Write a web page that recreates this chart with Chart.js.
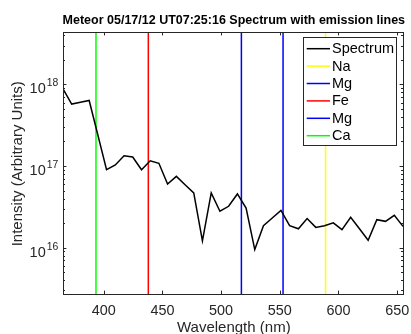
<!DOCTYPE html>
<html>
<head>
<meta charset="utf-8">
<script src="https://cdn.jsdelivr.net/npm/chart.js@4.4.1/dist/chart.umd.min.js"></script>
<style>
  html, body { margin: 0; padding: 0; background: #fff; }
  #wrap { width: 411px; height: 334px; }
</style>
</head>
<body>
<div id="wrap"><canvas id="spec" width="411" height="334"></canvas></div>
<script>
// spectrum samples (nm, arbitrary units)
const wavelength = [
  365.3, 372.7, 380.2, 387.6, 395.0, 402.4, 409.9, 417.3, 424.7, 432.2,
  439.6, 447.0, 454.4, 461.9, 469.3, 476.7, 484.1, 491.6, 499.0, 506.4,
  513.9, 521.3, 528.7, 536.1, 543.6, 551.0, 558.4, 565.9, 573.3, 580.7,
  588.1, 595.6, 603.0, 610.4, 617.9, 625.3, 632.7, 640.1, 647.6, 655.0
];
const intensity = [
  8.86e17, 5.75e17, 6.05e17, 6.37e17, 2.40e17, 9.02e16, 1.03e17, 1.34e17, 1.29e17, 9.02e16,
  1.16e17, 1.08e17, 6.03e16, 7.47e16, 5.91e16, 4.68e16, 1.21e16, 4.68e16, 2.79e16, 3.21e16,
  4.55e16, 3.06e16, 9.45e15, 1.86e16, 2.31e16, 2.86e16, 1.86e16, 1.70e16, 2.27e16, 1.77e16,
  1.85e16, 2.01e16, 1.66e16, 2.35e16, 1.70e16, 1.23e16, 2.20e16, 2.10e16, 2.49e16, 1.82e16
];

// emission lines, in legend order
const lineNames = ['Na', 'Mg', 'Fe', 'Mg', 'Ca'];
const lineWavelengths = [589.0, 552.8, 438.0, 517.3, 393.4];
const lineColors = ['#ffff00', '#0000ff', '#ff0000', '#0000ff', '#00ff00'];

const xTicks = [400, 450, 500, 550, 600, 650];
const yDecades = [16, 17, 18];
const xRange = [365.3, 655.0];
const yRange = [2.7e15, 4.4e18];

const FONT = '"Liberation Sans", Arial, Helvetica, sans-serif';
const AX = '#262626';

const datasets = [{
  label: 'Spectrum',
  data: wavelength.map((w, i) => ({ x: w, y: intensity[i] })),
  borderColor: '#000000',
  borderWidth: 1.5,
  pointRadius: 0,
  tension: 0
}];
lineNames.forEach((name, i) => {
  datasets.push({
    label: name,
    data: [{ x: lineWavelengths[i], y: yRange[0] }, { x: lineWavelengths[i], y: yRange[1] }],
    borderColor: lineColors[i],
    borderWidth: 1.5,
    pointRadius: 0
  });
});

// matlab style box, ticks, labels and legend
const matlabAxes = {
  id: 'matlabAxes',
  afterDatasetsDraw(chart) {
    const { ctx, chartArea: a, scales: { x, y } } = chart;
    const px = v => Math.round(v) + 0.5;
    ctx.save();
    ctx.strokeStyle = AX;
    ctx.lineWidth = 1;
    ctx.strokeRect(px(a.left), px(a.top), Math.round(a.right) - Math.round(a.left), Math.round(a.bottom) - Math.round(a.top));

    ctx.beginPath();
    xTicks.forEach(v => {
      const p = px(x.getPixelForValue(v));
      ctx.moveTo(p, a.bottom); ctx.lineTo(p, a.bottom - 3.4);
      ctx.moveTo(p, a.top); ctx.lineTo(p, a.top + 3.4);
    });
    for (let d = 15; d <= 18; d++) {
      for (let m = 1; m <= 9; m++) {
        const v = m * Math.pow(10, d);
        if (v < yRange[0] || v > yRange[1]) continue;
        const p = px(y.getPixelForValue(v));
        const len = m === 1 ? 3.4 : 2;
        ctx.moveTo(a.left, p); ctx.lineTo(a.left + len, p);
        ctx.moveTo(a.right, p); ctx.lineTo(a.right - len, p);
      }
    }
    ctx.stroke();

    // tick labels
    ctx.fillStyle = AX;
    ctx.font = '14.4px ' + FONT;
    ctx.textAlign = 'center';
    ctx.textBaseline = 'alphabetic';
    xTicks.forEach(v => ctx.fillText(String(v), x.getPixelForValue(v), a.bottom + 20.7));

    ctx.textAlign = 'left';
    yDecades.forEach(d => {
      const p = y.getPixelForValue(Math.pow(10, d));
      ctx.font = '10.4px ' + FONT;
      const ew = ctx.measureText(String(d)).width;
      ctx.font = '14.5px ' + FONT;
      const bw = ctx.measureText('10').width;
      const right = a.left - 4.7;
      ctx.fillText('10', right - ew - 1 - bw, p + 9);
      ctx.font = '10.4px ' + FONT;
      ctx.fillText(String(d), right - ew, p + 2);
    });

    // axis titles
    ctx.font = '15px ' + FONT;
    ctx.textAlign = 'center';
    ctx.fillText('Wavelength (nm)', (a.left + a.right) / 2 + 0.8, 332.4);
    ctx.save();
    ctx.translate(18.3, (a.top + a.bottom) / 2 + 0.8);
    ctx.rotate(-Math.PI / 2);
    ctx.textBaseline = 'middle';
    ctx.fillText('Intensity (Arbitrary Units)', 0, 0);
    ctx.restore();

    // title
    ctx.fillStyle = '#000';
    ctx.font = 'bold 12.5px ' + FONT;
    ctx.textBaseline = 'middle';
    ctx.fillText('Meteor 05/17/12 UT07:25:16 Spectrum with emission lines', (a.left + a.right) / 2 + 0.8, 20.7);

    // legend
    ctx.fillStyle = '#fff';
    ctx.fillRect(303.5, 37.5, 93, 108);
    ctx.strokeStyle = AX;
    ctx.strokeRect(303.5, 37.5, 93, 108);
    ctx.textAlign = 'left';
    ctx.font = '14.5px ' + FONT;
    chart.data.datasets.forEach((ds, i) => {
      const ry = 48.7 + i * 17.4;
      ctx.strokeStyle = ds.borderColor;
      ctx.lineWidth = 1.5;
      ctx.beginPath();
      ctx.moveTo(306.7, ry); ctx.lineTo(330, ry);
      ctx.stroke();
      ctx.fillStyle = '#000';
      ctx.fillText(ds.label, 332, ry + 0.5);
    });
    ctx.restore();
  }
};

new Chart(document.getElementById('spec'), {
  type: 'line',
  data: { datasets: datasets },
  options: {
    responsive: false,
    devicePixelRatio: 1,
    animation: false,
    layout: { padding: { top: 32, right: 8, left: 0, bottom: 0 } },
    plugins: {
      legend: { display: false },
      title: { display: false },
      tooltip: { enabled: false }
    },
    scales: {
      x: {
        type: 'linear',
        min: xRange[0],
        max: xRange[1],
        ticks: { display: false },
        grid: { display: false },
        border: { display: false },
        afterFit: s => { s.height = 40; }
      },
      y: {
        type: 'logarithmic',
        min: yRange[0],
        max: yRange[1],
        ticks: { display: false },
        grid: { display: false },
        border: { display: false },
        afterFit: s => { s.width = 63; }
      }
    }
  },
  plugins: [matlabAxes]
});
</script>
</body>
</html>
